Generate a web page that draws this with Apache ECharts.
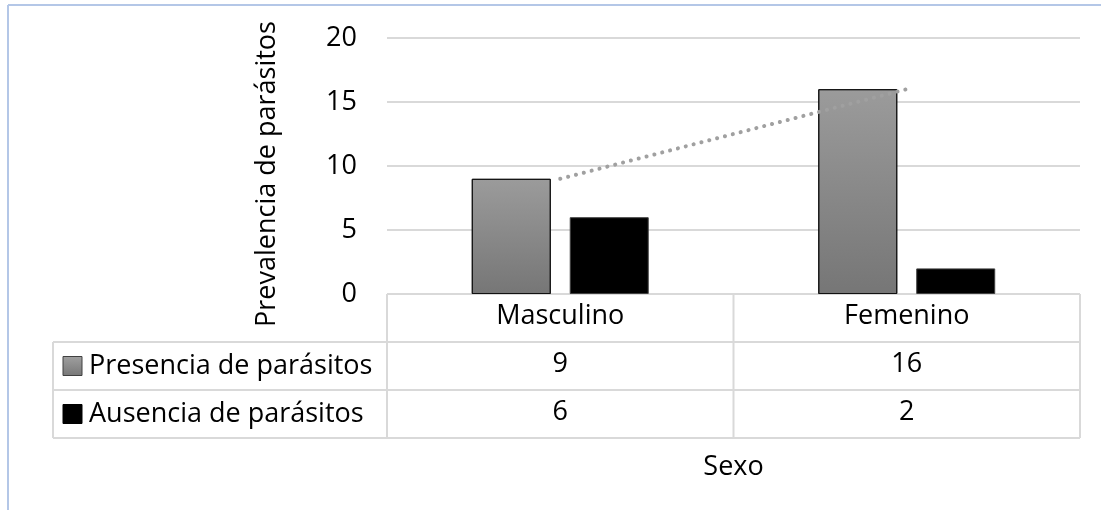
<!DOCTYPE html>
<html>
<head>
<meta charset="utf-8">
<script src="https://cdn.jsdelivr.net/npm/echarts@6/dist/echarts.min.js"></script>
<style>
  html, body { margin: 0; padding: 0; background: #fff; }
  #chart { width: 1101px; height: 510px; }
</style>
</head>
<body>
<div id="chart"></div>
<script>
// datos del gráfico
const categorias = ['Masculino', 'Femenino'];
const presencia = [9, 16];
const ausencia = [6, 2];
const nombres = ['Presencia de parásitos', 'Ausencia de parásitos'];
const yTicks = { min: 0, max: 20, interval: 5 };

const FONT = 'Open Sans';
const FS = 27;
const GRID = { left: 387, right: 21, top: 38, bottom: 216 };
const ROW = 48;
const TABLE_LEFT = 53;
const LINE = '#d9d9d9';

const grayFill = new echarts.graphic.LinearGradient(0, 0, 0, 1, [
  { offset: 0, color: '#9b9b9b' },
  { offset: 1, color: '#767676' }
]);

const chart = echarts.init(document.getElementById('chart'));

const labelStyle = { fontFamily: FONT, fontSize: FS, color: '#000', margin: 9 };

const option = {
  animation: false,
  textStyle: { fontFamily: FONT, color: '#000' },
  grid: GRID,
  xAxis: [
    {
      type: 'category',
      data: categorias,
      name: 'Sexo',
      nameLocation: 'middle',
      nameGap: 160,
      nameTextStyle: { fontFamily: FONT, fontSize: FS, color: '#000' },
      axisLine: { show: false },
      axisTick: { show: false },
      axisLabel: labelStyle
    },
    {
      type: 'category',
      data: presencia.map(String),
      position: 'bottom',
      offset: ROW,
      axisLine: { show: false },
      axisTick: { show: false },
      axisLabel: labelStyle
    },
    {
      type: 'category',
      data: ausencia.map(String),
      position: 'bottom',
      offset: ROW * 2,
      axisLine: { show: false },
      axisTick: { show: false },
      axisLabel: labelStyle
    }
  ],
  yAxis: {
    type: 'value',
    min: yTicks.min,
    max: yTicks.max,
    interval: yTicks.interval,
    name: 'Prevalencia de parásitos',
    nameLocation: 'middle',
    nameGap: 106,
    nameTextStyle: { fontFamily: FONT, fontSize: FS, color: '#000', padding: [0, 16, 0, 0] },
    axisLine: { show: false },
    axisTick: { show: false },
    axisLabel: { fontFamily: FONT, fontSize: FS, color: '#000', margin: 30 },
    splitLine: { lineStyle: { color: LINE, width: 2 } }
  },
  series: [
    {
      name: nombres[0],
      type: 'bar',
      data: presencia,
      barWidth: 79,
      barGap: '24%',
      itemStyle: { color: grayFill, borderColor: '#111', borderWidth: 1 }
    },
    {
      name: nombres[1],
      type: 'bar',
      data: ausencia,
      barWidth: 79,
      itemStyle: { color: '#000', borderColor: '#404040', borderWidth: 1 }
    },
    {
      name: 'Lineal (' + nombres[0] + ')',
      type: 'line',
      data: presencia,
      symbol: 'none',
      z: 5,
      lineStyle: { color: '#a0a0a0', width: 4, type: [0.1, 8], cap: 'round' }
    }
  ]
};
chart.setOption(option);

// tabla de datos debajo del eje
const x0 = GRID.left;
const x2 = 1101 - GRID.right;
const y0 = 510 - GRID.bottom;
const half = (chart.convertToPixel({ xAxisIndex: 0 }, categorias[1]) -
  chart.convertToPixel({ xAxisIndex: 0 }, categorias[0])) / 2;
const xMid = chart.convertToPixel({ xAxisIndex: 0 }, categorias[0]) + half;

const line = (a, b, c, d, color, w) => ({
  type: 'line',
  shape: { x1: a, y1: b, x2: c, y2: d },
  style: { stroke: color || LINE, lineWidth: w || 2 },
  silent: true
});

const graphics = [
  // borde del área del gráfico
  line(8, 5, 1101, 5, '#b4c7e7', 2),
  line(8, 5, 8, 510, '#b4c7e7', 2),
  // rejilla de la tabla
  line(x0, y0, x2, y0),
  line(TABLE_LEFT, y0 + ROW, x2, y0 + ROW),
  line(TABLE_LEFT, y0 + ROW * 2, x2, y0 + ROW * 2),
  line(TABLE_LEFT, y0 + ROW * 3, x2, y0 + ROW * 3),
  line(TABLE_LEFT, y0 + ROW, TABLE_LEFT, y0 + ROW * 3),
  line(x0, y0, x0, y0 + ROW * 3),
  line(xMid, y0, xMid, y0 + ROW * 3),
  line(x2, y0, x2, y0 + ROW * 3)
];

nombres.forEach((n, i) => {
  const cy = y0 + ROW * (i + 1) + ROW / 2;
  graphics.push({
    type: 'rect',
    shape: { x: 63, y: cy - 9.5, width: 19, height: 19 },
    style: {
      fill: i === 0 ? new echarts.graphic.LinearGradient(0, 0, 0, 1, [
        { offset: 0, color: '#a0a0a0' }, { offset: 1, color: '#777' }
      ]) : '#000',
      stroke: i === 0 ? '#404040' : '#000',
      lineWidth: 1
    },
    silent: true
  });
  graphics.push({
    type: 'text',
    x: 89,
    y: cy,
    style: {
      text: n,
      font: FS + 'px "' + FONT + '"',
      fill: '#000',
      verticalAlign: 'middle',
      align: 'left'
    },
    silent: true
  });
});

chart.setOption({ graphic: graphics });
</script>
</body>
</html>
